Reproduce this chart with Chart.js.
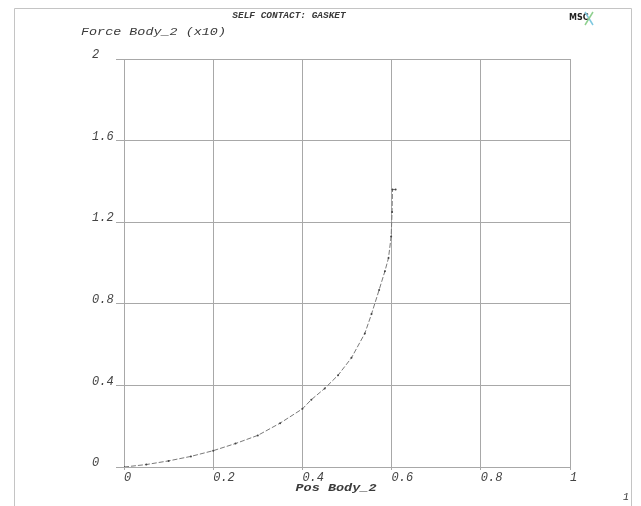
<!DOCTYPE html>
<html>
<head>
<meta charset="utf-8">
<script src="https://cdn.jsdelivr.net/npm/chart.js@4"></script>
<style>
  html, body { margin: 0; padding: 0; background: #fff; }
  #wrap { width: 641px; height: 506px; }
</style>
</head>
<body>
<div id="wrap"><canvas id="chart" width="641" height="506"></canvas></div>
<script>
// curve (Pos Body_2 vs Force Body_2 x10)
const posBody = [0, 0.05, 0.1, 0.15, 0.2, 0.25, 0.3, 0.35, 0.4, 0.42, 0.45, 0.48, 0.51, 0.54, 0.555, 0.572, 0.585, 0.593, 0.599, 0.601, 0.602, 0.609];
const forceBody = [0, 0.012, 0.03, 0.052, 0.08, 0.115, 0.155, 0.215, 0.285, 0.33, 0.385, 0.45, 0.535, 0.655, 0.75, 0.868, 0.96, 1.024, 1.13, 1.25, 1.36, 1.36];
const xTicks = [0, 0.2, 0.4, 0.6, 0.8, 1];
const yTicks = [0, 0.4, 0.8, 1.2, 1.6, 2];
const xTickLabels = ['0', '0.2', '0.4', '0.6', '0.8', '1'];
const yTickLabels = ['0', '0.4', '0.8', '1.2', '1.6', '2'];

const tickFont = { family: 'Liberation Mono', size: 12, style: 'italic' };
const gridColor = '#a8a8a8';

// wide, flat lettering like the plotter font
function wideText(c, txt, x, y, font, sx, align) {
    c.save();
    c.font = font;
    c.textAlign = align;
    c.translate(x, y);
    c.scale(sx, 1);
    c.fillText(txt, 0, 0);
    c.restore();
}

// titles, frame and logo
const decorations = {
    id: 'decorations',
    beforeDraw(chart) {
        const c = chart.ctx;
        c.save();
        c.fillStyle = '#fff';
        c.fillRect(0, 0, chart.width, chart.height);
        c.restore();
    },
    afterDraw(chart) {
        const c = chart.ctx;
        c.save();
        c.strokeStyle = '#c4c4c4';
        c.lineWidth = 1;
        c.beginPath();
        c.moveTo(14.5, 506);
        c.lineTo(14.5, 8.5);
        c.lineTo(631.5, 8.5);
        c.lineTo(631.5, 506);
        c.stroke();

        c.fillStyle = '#3a3a3a';
        c.textBaseline = 'middle';
        wideText(c, 'SELF CONTACT: GASKET', 289, 16, 'italic bold 9px "Liberation Mono"', 1.05, 'center');
        wideText(c, 'Force Body_2 (x10)', 81, 32, 'italic 11px "Liberation Mono"', 1.22, 'left');
        wideText(c, 'Pos Body_2', 336, 488, 'italic bold 10px "Liberation Mono"', 1.35, 'center');
        wideText(c, '1', 626, 497, 'italic 10px "Liberation Mono"', 1, 'center');

        // msc logo
        c.font = 'bold 8px "DejaVu Sans"';
        c.fillStyle = '#222';
        c.textAlign = 'left';
        c.fillText('MSC', 569, 18);
        c.lineWidth = 1.5;
        c.strokeStyle = '#7ec8e0';
        c.beginPath();
        c.moveTo(585, 12); c.lineTo(593, 25);
        c.stroke();
        c.strokeStyle = '#8fd08f';
        c.beginPath();
        c.moveTo(593, 12); c.lineTo(585, 25);
        c.stroke();
        c.restore();
    }
};

new Chart(document.getElementById('chart'), {
    type: 'scatter',
    data: {
        datasets: [{
            data: posBody.map((x, i) => ({ x: x, y: forceBody[i] })),
            showLine: true,
            borderColor: '#7a7a7a',
            borderWidth: 1,
            borderDash: [5, 2],
            pointRadius: 1,
            pointBackgroundColor: '#444',
            pointBorderWidth: 0,
            tension: 0
        }]
    },
    options: {
        responsive: false,
        animation: false,
        layout: { padding: { left: 92, right: 71, top: 59, bottom: 0 } },
        plugins: { legend: { display: false }, tooltip: { enabled: false } },
        scales: {
            x: {
                type: 'linear',
                min: 0,
                max: 1,
                afterFit(s) { s.height = 39; },
                afterBuildTicks(s) { s.ticks = xTicks.map(v => ({ value: v })); },
                ticks: {
                    font: tickFont,
                    color: '#444',
                    align: 'start',
                    padding: 1,
                    maxRotation: 0,
                    callback: (v) => xTickLabels[xTicks.indexOf(v)]
                },
                grid: { color: gridColor, tickLength: 3, lineWidth: 1 },
                border: { color: gridColor }
            },
            y: {
                type: 'linear',
                min: 0,
                max: 2,
                afterFit(s) { s.width = 32; },
                afterBuildTicks(s) { s.ticks = yTicks.map(v => ({ value: v })); },
                ticks: {
                    font: tickFont,
                    color: '#444',
                    crossAlign: 'far',
                    labelOffset: -4,
                    callback: (v) => yTickLabels[yTicks.indexOf(v)]
                },
                grid: { color: gridColor, tickLength: 8, lineWidth: 1 },
                border: { color: gridColor }
            }
        }
    },
    plugins: [decorations]
});
</script>
</body>
</html>
